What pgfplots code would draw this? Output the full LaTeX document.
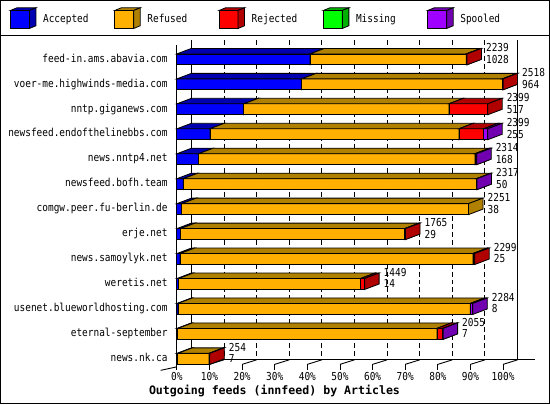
\documentclass[border=0pt]{standalone}
\usepackage{pgfplots}
\pgfplotsset{compat=1.18}
\usepackage{pgfplotstable}
\usepackage{fontspec}
\setmainfont[FakeStretch=0.86]{DejaVu Sans Mono}
\newfontfamily\titlefont{DejaVu Sans Mono}

\definecolor{accF}{HTML}{0000FF}\definecolor{accD}{HTML}{0000B0}
\definecolor{refF}{HTML}{FFB000}\definecolor{refD}{HTML}{B08000}
\definecolor{rejF}{HTML}{FF0000}\definecolor{rejD}{HTML}{B00000}
\definecolor{misF}{HTML}{00FF00}\definecolor{misD}{HTML}{00B000}
\definecolor{spoF}{HTML}{A000FF}\definecolor{spoD}{HTML}{7000B0}

\newcommand\lbl{\fontsize{11bp}{11.7bp}\selectfont}
\tikzset{txt/.style={font=\lbl, inner sep=0pt, text height=7.6bp, text depth=2.2bp}}

% articles per feed, longest bar (2518) = 100%
\pgfplotstableread{
row acc  ref  rej mis spo tot
0   1028 1206 5   0   0   2239
1   964  1549 5   0   0   2518
2   517  1583 299 0   0   2399
3   255  1923 191 0   30  2399
4   168  2133 9   0   4   2314
5   50   2263 0   0   4   2317
6   38   2213 0   0   0   2251
7   29   1730 6   0   0   1765
8   25   2260 14  0   0   2299
9   14   1405 30  0   0   1449
10  8    2257 0   0   19  2284
11  7    2001 44  0   3   2055
12  7    241  6   0   0   254
}\feeds

% one stacked piece: front, top and side face (depth 4.44% x 0.22 row)
\newcommand\seg[4]{%
  \ifdim #2pt>#1pt
    \pgfmathsetmacro\xa{#1+4.44}\pgfmathsetmacro\xb{#2+4.44}%
    \addplot[fill=#3, draw=black, line width=0.8bp] coordinates {(#1,\yb) (#2,\yb) (#2,\yt) (#1,\yt)} --cycle;
    \addplot[fill=#4, draw=black, line width=0.8bp] coordinates {(#1,\yt) (#2,\yt) (\xb,\yk) (\xa,\yk)} --cycle;
    \addplot[fill=#4, draw=black, line width=0.8bp] coordinates {(#2,\yb) (#2,\yt) (\xb,\yk) (\xb,\ym)} --cycle;
  \fi}

\begin{document}
\begin{tikzpicture}
% back wall and floor, in pixels
\begin{scope}[x=1bp, y=-1bp, line width=0.9bp]
  \foreach \k in {1,...,9}
    \draw[dash pattern=on 5bp off 3bp] ({191.2+32.68*\k},40) -- ({191.2+32.68*\k},360.5);
  \draw (191.2,40) -- (191.2,360.5) -- (535,360.5);
  \draw (518,40) -- (518,360.5);
  \draw (176.7,45.5) -- (176.7,368);
  \draw (160.5,371) -- (176.7,367.5);
  \draw (503.5,365) -- (518,360.5);
  \foreach \k in {0,...,10} \draw ({176.7+32.68*\k},365) -- ++(0,5.5);
  \foreach \k in {0,...,9} \draw ({176.7+32.68*\k},365) -- ++(14.5,-4.5);
\end{scope}

\begin{axis}[
  at={(0.5bp,-0.5bp)}, anchor=north west,
  x=3.268bp, y=25bp,
  xmin=-53.92, xmax=114.08, ymin=-13.8, ymax=2.36,
  axis line style={line width=1bp},
  clip=false,
  major tick length=0pt,
  xtick={0,10,20,30,40,50,60,70,80,90,100},
  xticklabels={0\%,10\%,20\%,30\%,40\%,50\%,60\%,70\%,80\%,90\%,100\%},
  xticklabel style={txt, anchor=center, yshift=26.5bp},
  ytick={-12,-11,-10,-9,-8,-7,-6,-5,-4,-3,-2,-1,0},
  yticklabels={news.nk.ca,eternal-september,usenet.blueworldhosting.com,weretis.net,news.samoylyk.net,erje.net,comgw.peer.fu-berlin.de,newsfeed.bofh.team,news.nntp4.net,newsfeed.endofthelinebbs.com,nntp.giganews.com,voer-me.highwinds-media.com,feed-in.ams.abavia.com},
  yticklabel style={txt, anchor=east, xshift=167bp},
]
\pgfplotsinvokeforeach{0,...,12}{
  \pgfplotstablegetelem{#1}{acc}\of\feeds \let\va\pgfplotsretval
  \pgfplotstablegetelem{#1}{ref}\of\feeds \let\vr\pgfplotsretval
  \pgfplotstablegetelem{#1}{rej}\of\feeds \let\vj\pgfplotsretval
  \pgfplotstablegetelem{#1}{mis}\of\feeds \let\vm\pgfplotsretval
  \pgfplotstablegetelem{#1}{spo}\of\feeds \let\vs\pgfplotsretval
  \pgfmathsetmacro\xA{\va/25.18}
  \pgfmathsetmacro\xR{\xA+\vr/25.18}
  \pgfmathsetmacro\xJ{\xR+\vj/25.18}
  \pgfmathsetmacro\xM{\xJ+\vm/25.18}
  \pgfmathsetmacro\xS{\xM+\vs/25.18}
  \pgfmathsetmacro\yb{-#1-0.22}
  \pgfmathsetmacro\yt{-#1+0.22}
  \pgfmathsetmacro\yk{-#1+0.44}
  \pgfmathsetmacro\ym{-#1}
  \seg{0}{\xA}{accF}{accD}
  \seg{\xA}{\xR}{refF}{refD}
  \seg{\xR}{\xJ}{rejF}{rejD}
  \seg{\xJ}{\xM}{misF}{misD}
  \seg{\xM}{\xS}{spoF}{spoD}
}
\addplot[only marks, mark=none, nodes near coords, point meta=explicit symbolic,
  nodes near coords style={txt, anchor=west, text=black}]
  table[x expr=\thisrow{tot}/25.18+5.8, y expr=-\thisrow{row}+0.42, meta=tot] {\feeds};
\addplot[only marks, mark=none, nodes near coords, point meta=explicit symbolic,
  nodes near coords style={txt, anchor=west, text=black}]
  table[x expr=\thisrow{tot}/25.18+5.8, y expr=-\thisrow{row}-0.05, meta=acc] {\feeds};
\end{axis}

% legend and caption, in pixels
\begin{scope}[x=1bp, y=-1bp]
  \draw[line width=1bp] (0,35.5) -- (550,35.5);
  \foreach \i/\n/\cf/\cd in {0/Accepted/accF/accD, 1/Refused/refF/refD, 2/Rejected/rejF/rejD, 3/Missing/misF/misD, 4/Spooled/spoF/spoD}{
    \pgfmathsetmacro\x{10+104.5*\i}
    \filldraw[fill=\cf, line width=0.8bp] (\x,10.5) rectangle (\x+19,28.5);
    \filldraw[fill=\cd, line width=0.8bp] (\x,10.5) -- (\x+19,10.5) -- (\x+25.5,7.8) -- (\x+6.5,7.8) -- cycle;
    \filldraw[fill=\cd, line width=0.8bp] (\x+19,10.5) -- (\x+25.5,7.8) -- (\x+25.5,25.8) -- (\x+19,28.5) -- cycle;
    \node[txt, anchor=west] at (\x+32.5,20) {\n};
  }
  \node[font=\titlefont\fontsize{11.6bp}{13bp}\selectfont\bfseries] at (274.5,391.5) {Outgoing feeds (innfeed) by Articles};
\end{scope}
\end{tikzpicture}
\end{document}
